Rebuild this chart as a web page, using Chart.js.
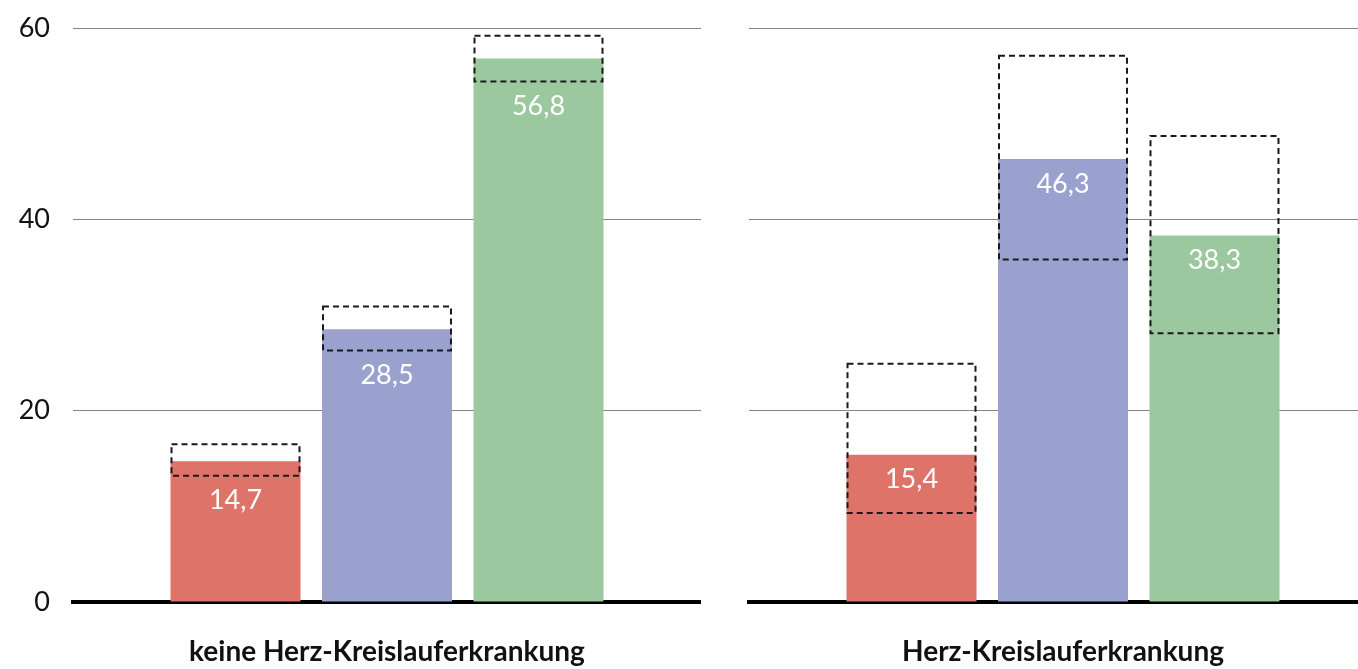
<!DOCTYPE html>
<html>
<head>
<meta charset="utf-8">
<script src="https://cdn.jsdelivr.net/npm/chart.js@4.4.1/dist/chart.umd.min.js"></script>
<style>
  html, body { margin: 0; padding: 0; background: #fff; overflow: hidden; }
  #wrap { position: relative; width: 1358px; height: 669px; overflow: hidden; }
  #leftChart { position: absolute; left: 0; top: 0; }
  #rightChart { position: absolute; left: 701px; top: 0; }
</style>
</head>
<body>
<div id="wrap">
  <canvas id="leftChart" width="701" height="669"></canvas>
  <canvas id="rightChart" width="676" height="669"></canvas>
</div>
<script>
// -------------------- DATA --------------------
const panelLabels = ["keine Herz-Kreislauferkrankung", "Herz-Kreislauferkrankung"];
const groupNames = ["Gruppe 1", "Gruppe 2", "Gruppe 3"];
const groupColors = ["#DE7369", "#9AA1CE", "#9BC89E"];

// keine Herz-Kreislauferkrankung
const leftValues = [14.7, 28.5, 56.8];
const leftLow = [13.2, 26.3, 54.4];
const leftHigh = [16.5, 30.9, 59.2];

// Herz-Kreislauferkrankung
const rightValues = [15.4, 46.3, 38.3];
const rightLow = [9.3, 35.8, 28.1];
const rightHigh = [24.9, 57.1, 48.7];

const yTicks = [0, 20, 40, 60];

const FONT = "Lato, 'Open Sans', sans-serif";

// -------------------- CI BOXES + VALUE LABELS --------------------
const ciPlugin = {
  id: "ciBoxes",
  afterDatasetsDraw(chart) {
    const ctx = chart.ctx;
    const y = chart.scales.y;
    chart.data.datasets.forEach((ds, i) => {
      const bar = chart.getDatasetMeta(i).data[0];
      const { x, width } = bar.getProps(["x", "width"], true);
      const top = y.getPixelForValue(ds.ciHigh);
      const bottom = y.getPixelForValue(ds.ciLow);
      const barTop = y.getPixelForValue(ds.data[0]);

      ctx.save();
      ctx.setLineDash([6, 4]);
      ctx.lineWidth = 2;
      ctx.strokeStyle = "#1a1a1a";
      ctx.strokeRect(x - width / 2 + 1, top, width - 2, bottom - top);
      ctx.restore();

      // label goes below the box if the box ends just under the bar top
      const anchor = (bottom - barTop < 40) ? bottom : barTop;
      ctx.save();
      ctx.fillStyle = "#fff";
      ctx.font = "27px " + FONT;
      ctx.textAlign = "center";
      ctx.textBaseline = "middle";
      ctx.fillText(ds.data[0].toFixed(1).replace(".", ","), x, anchor + 25);
      ctx.restore();
    });
  }
};

function makeChart(id, label, values, low, high, showTicks) {
  return new Chart(document.getElementById(id), {
    type: "bar",
    data: {
      labels: [label],
      datasets: values.map((v, i) => ({
        label: groupNames[i],
        data: [v],
        ciLow: low[i],
        ciHigh: high[i],
        backgroundColor: groupColors[i],
        borderWidth: 0,
        categoryPercentage: 0.7237,
        barPercentage: 0.858,
      })),
    },
    options: {
      responsive: false,
      animation: false,
      layout: { padding: { top: 28, right: 0, left: 0, bottom: 0 } },
      plugins: { legend: { display: false }, tooltip: { enabled: false } },
      scales: {
        x: {
          grid: { display: false, drawTicks: false },
          border: { display: true, color: "#000", width: 4 },
          ticks: {
            color: "#111",
            font: { family: FONT, size: 28, weight: "bold" },
            padding: 33,
          },
          afterFit: s => { s.height = 67; },
        },
        y: {
          min: 0,
          max: 60,
          afterBuildTicks: s => { s.ticks = yTicks.map(v => ({ value: v })); },
          grid: { color: "#858585", lineWidth: 1, drawTicks: false },
          border: { display: false },
          ticks: {
            display: showTicks,
            color: "#111",
            font: { family: FONT, size: 27 },
            padding: 23,
          },
          afterFit: s => {
            s.width = showTicks ? 73 : 48;
            s.paddingTop = 0;
            s.paddingBottom = 0;
          },
        },
      },
    },
    plugins: [ciPlugin],
  });
}

makeChart("leftChart", panelLabels[0], leftValues, leftLow, leftHigh, true);
makeChart("rightChart", panelLabels[1], rightValues, rightLow, rightHigh, false);
</script>
</body>
</html>
